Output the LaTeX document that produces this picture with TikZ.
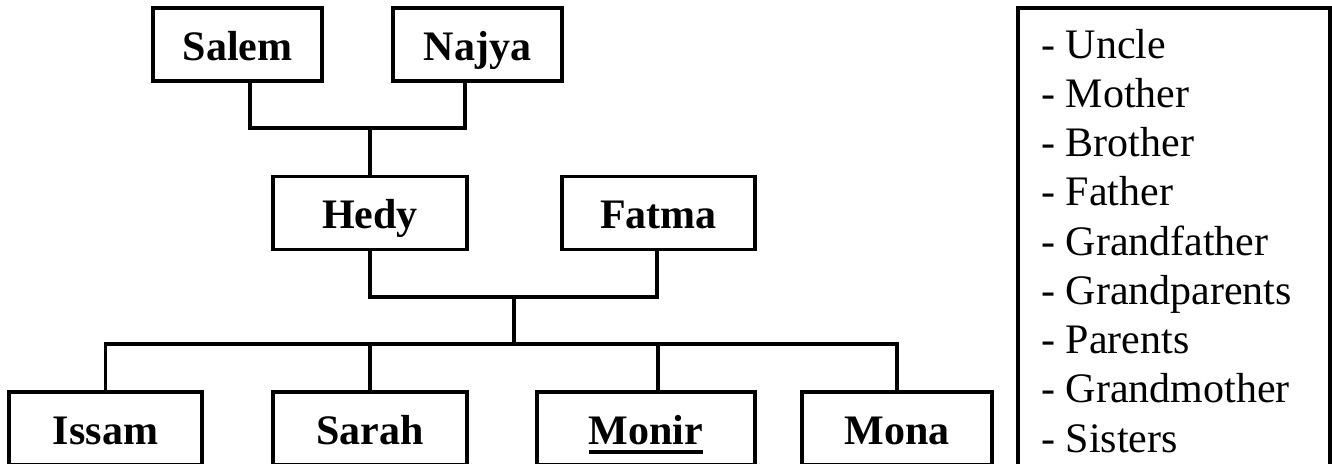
\documentclass[tikz,border=0pt]{standalone}
\usepackage{fontspec}
\setmainfont{Liberation Serif}
\newcommand{\ulname}[1]{{\setbox0\hbox{#1}\rlap{\rule[-10pt]{\wd0}{4pt}}\box0}}
\begin{document}
\begin{tikzpicture}[x=1pt,y=-1pt,
  person/.style={draw, line width=3.5pt, outer sep=0pt, inner sep=0pt,
    minimum height=73pt, text height=31pt, text depth=0pt,
    font=\fontsize{42}{50}\selectfont\bfseries},
  link/.style={line width=3.5pt, line join=miter},
  frame/.style={draw, line width=3.5pt, outer sep=0pt, inner sep=0pt}]
\useasboundingbox (0,0) rectangle (1332,463);
\clip (0,0) rectangle (1332,463);
% grandparents
\node[person, minimum width=169pt] (salem) at (237.5,44.5) {Salem};
\node[person, minimum width=169pt] (najya) at (477.5,44.5) {Najya};
% parents
\node[person, minimum width=194pt] (hedy) at (370,213) {Hedy};
\node[person, minimum width=193pt] (fatma) at (658.5,213) {Fatma};
% children
\node[person, minimum width=193pt] (issam) at (105.5,428.5) {Issam};
\node[person, minimum width=194pt] (sarah) at (370,428.5) {Sarah};
\node[person, minimum width=218pt] (monir) at (646,428.5) {\ulname{Monir}};
\node[person, minimum width=190pt] (mona) at (897,428.5) {Mona};
% connectors
\coordinate (gbar) at (370,128);
\coordinate (pbar) at (514,297);
\coordinate (kbar) at (514,344);
\draw[link] ([xshift=12.5pt]salem.south) |- (gbar) -| ([xshift=-12.5pt]najya.south);
\draw[link] (gbar) -- (hedy.north);
\draw[link] (hedy.south) |- (pbar) -| ([xshift=-1.5pt]fatma.south);
\draw[link] (pbar) -- (kbar);
\draw[link] (issam.north) |- (kbar) -| (mona.north);
\draw[link] (sarah.north) -- (sarah.north |- kbar);
\draw[link] ([xshift=12pt]monir.north) -- ([xshift=12pt]monir.north |- kbar);
% legend
\node[frame, minimum width=312pt, minimum height=462pt] (legend) at (1174,239) {};
\node[anchor=base west, inner sep=0pt] (legtext) at (1041,58)
  {\parbox[t]{285pt}{\fontsize{42}{49.25}\selectfont\raggedright
   - Uncle\\
   - Mother\\
   - Brother\\
   - Father\\
   - Grandfather\\
   - Grandparents\\
   - Parents\\
   - Grandmother\\
   - Sisters}};
\end{tikzpicture}
\end{document}
